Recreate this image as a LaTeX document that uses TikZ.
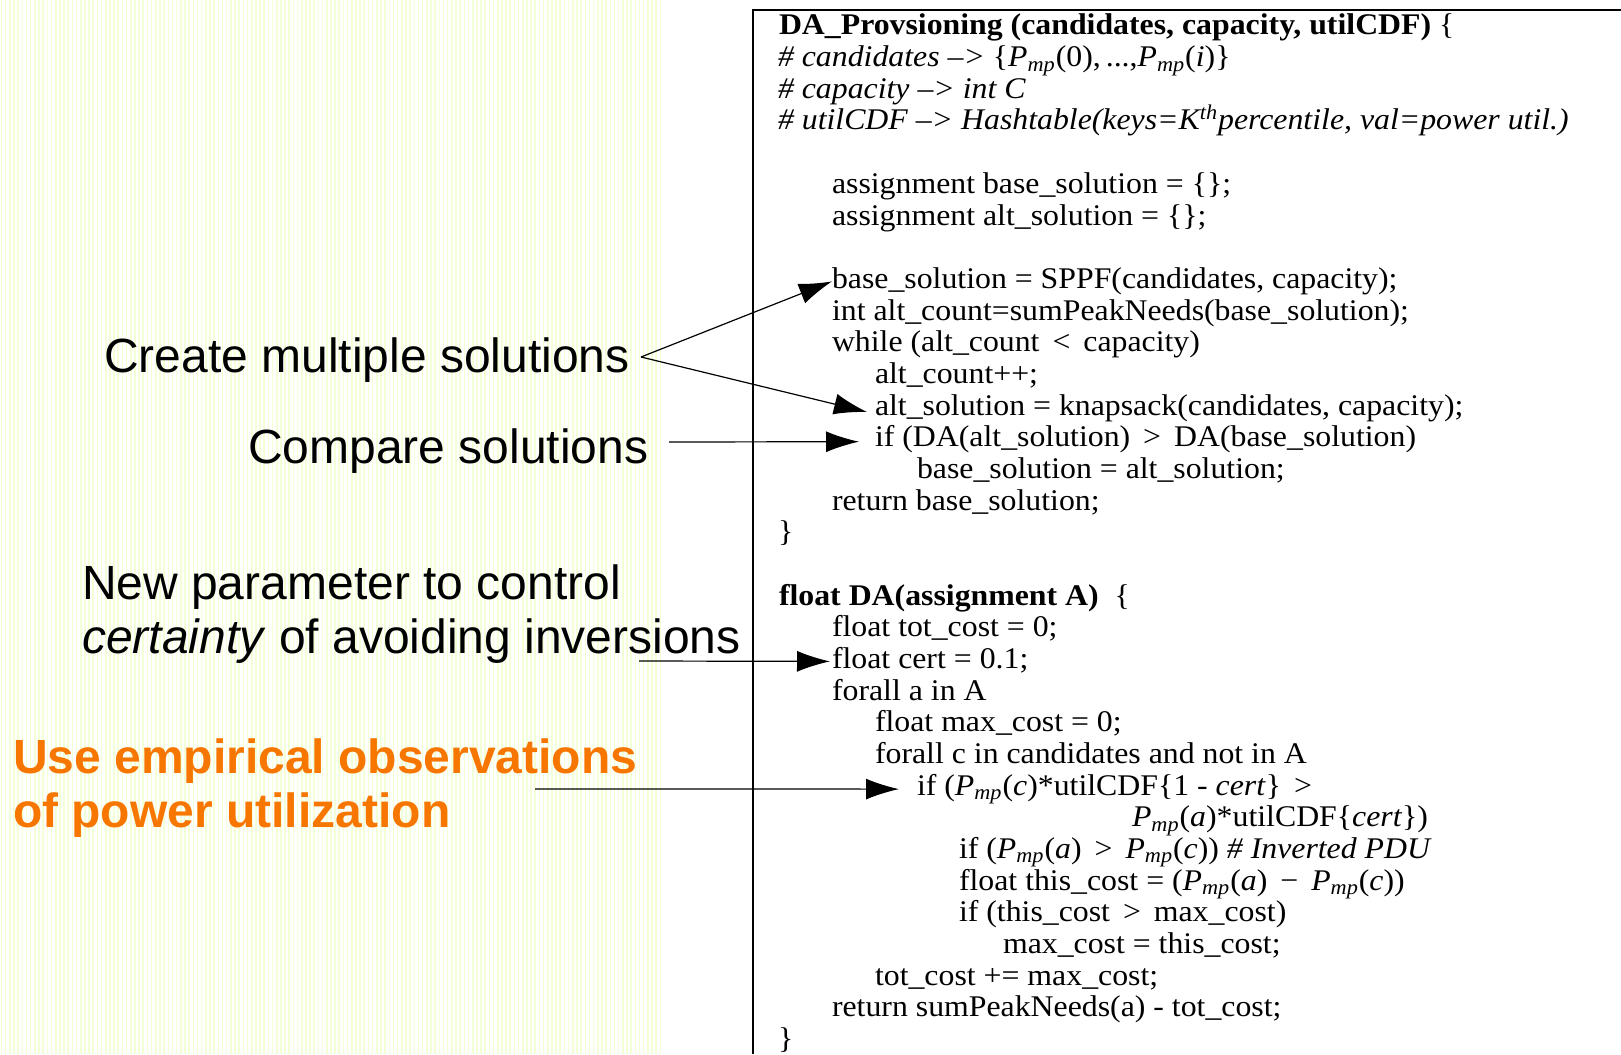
\documentclass[tikz,border=0pt]{standalone}
\usepackage{fontspec}
\setmainfont{Liberation Serif}[FakeStretch=1.06]
\newfontfamily\labelfont{Liberation Sans}
\usetikzlibrary{arrows.meta,calc}

\definecolor{stripecol}{RGB}{243,255,212}
\definecolor{hilite}{RGB}{247,118,0}

\newcommand\Pmp{\textit{P}\textsubscript{\textit{mp}}}
\newcommand\codefont{\fontsize{15}{16}\selectfont}
\newcommand\notefont{\labelfont\fontsize{24}{28}\selectfont}

\tikzset{
  codeline/.style={anchor=base west, inner sep=0pt, outer sep=0pt, font=\codefont},
  note/.style={anchor=base west, inner sep=0pt, outer sep=0pt, font=\notefont},
  hinote/.style={note, font=\notefont\bfseries, text=hilite},
  stripe/.style={draw=stripecol, line width=0.8pt},
  frame/.style={line width=0.8pt},
  pointer/.style={line width=0.6pt, -{Latex[length=16.5pt,width=10.5pt]}}
}

\begin{document}
\begin{tikzpicture}[x=0.5pt, y=-0.5pt]
\useasboundingbox (0,0) rectangle (1621,1054);

% striped backdrop on the left
\foreach \i in {0,...,158}
  \draw[stripe] (\i*4.17+1.5, 0) -- (\i*4.17+1.5, 1054);

% listing frame
\draw[frame] (1621,10) -- (753,10) -- (753,1054);

% --- listing: DA_Provsioning ---
\node[codeline] (c0)  at (779, 35.0)  {\textbf{DA\_Provsioning (candidates, capacity, utilCDF)} \{};
\node[codeline] (c1)  at (778, 66.7)  {\textit{\# candidates –>} \{\Pmp(0),\,...,\Pmp(\textit{i})\}};
\node[codeline] (c2)  at (778, 98.3)  {\textit{\# capacity –> int C}};
\node[codeline] (c3)  at (778, 130.0) {\textit{\# utilCDF –> Hashtable(keys=K\textsuperscript{th}percentile, val=power util.)}};
\node[codeline] (c5)  at (832, 193.4) {assignment base\_solution = \{\};};
\node[codeline] (c6)  at (832, 225.0) {assignment alt\_solution = \{\};};
\node[codeline] (c8)  at (832, 288.4) {base\_solution = SPPF(candidates, capacity);};
\node[codeline] (c9)  at (832, 320.0) {int alt\_count=sumPeakNeeds(base\_solution);};
\node[codeline] (c10) at (832, 351.7) {while (alt\_count \,<\, capacity)};
\node[codeline] (c11) at (875, 383.4) {alt\_count++;};
\node[codeline] (c12) at (875, 415.0) {alt\_solution = knapsack(candidates, capacity);};
\node[codeline] (c13) at (875, 446.7) {if (DA(alt\_solution) \,>\, DA(base\_solution)};
\node[codeline] (c14) at (917, 478.4) {base\_solution = alt\_solution;};
\node[codeline] (c15) at (832, 510.1) {return base\_solution;};
\node[codeline] (c16) at (778, 541.7) {\}};

% --- listing: DA ---
\node[codeline] (c18) at (779, 605.1) {\textbf{float DA(assignment A)}\ \ \{};
\node[codeline] (c19) at (832, 636.7) {float tot\_cost = 0;};
\node[codeline] (c20) at (832, 668.4) {float cert = 0.1;};
\node[codeline] (c21) at (832, 700.1) {forall a in A};
\node[codeline] (c22) at (875, 731.7) {float max\_cost = 0;};
\node[codeline] (c23) at (875, 763.4) {forall c in candidates and not in A};
\node[codeline] (c24) at (917, 795.1) {if (\Pmp(\textit{c})*utilCDF\{1 - \textit{cert}\} \,>};
\node[codeline] (c25) at (1132, 826.8) {\Pmp(\textit{a})*utilCDF\{\textit{cert}\})};
\node[codeline] (c26) at (959, 858.4) {if (\Pmp(\textit{a}) \,>\, \Pmp(\textit{c})) \textit{\# Inverted PDU}};
\node[codeline] (c27) at (959, 890.1) {float this\_cost = (\Pmp(\textit{a}) \,−\, \Pmp(\textit{c}))};
\node[codeline] (c28) at (959, 921.8) {if (this\_cost \,>\, max\_cost)};
\node[codeline] (c29) at (1003, 953.4) {max\_cost = this\_cost;};
\node[codeline] (c30) at (875, 985.1) {tot\_cost += max\_cost;};
\node[codeline] (c31) at (832, 1016.8) {return sumPeakNeeds(a) - tot\_cost;};
\node[codeline] (c32) at (778, 1048.4) {\}};

% --- annotations ---
\node[note] (create)  at (104, 372) {Create multiple solutions};
\node[note] (compare) at (248, 463) {Compare solutions};
\node[note] (param1)  at (82, 599)  {New parameter to control};
\node[note] (param2)  at (82, 653)  {\textit{certainty} of avoiding inversions};
\node[hinote] (emp1)  at (13, 773)  {Use empirical observations};
\node[hinote] (emp2)  at (13, 827)  {of power utilization};

% arrow start points
\coordinate (fork)     at (641, 357);
\coordinate (cmpstart) at (669, 442);
\coordinate (certstart) at (639, 661);
\coordinate (empstart) at (535, 789);

% arrow targets beside the listing lines
\coordinate (tSPPF) at ($(c8.base west)+(0,-7)$);
\coordinate (tKnap) at ($(c12.base west)+(-8,-3)$);
\coordinate (tCmp)  at ($(c13.base west)+(-16,-5)$);
\coordinate (tCert) at ($(c20.base west)+(-2,-7)$);
\coordinate (tEmp)  at ($(c24.base west)+(-18,-6)$);

\draw[pointer] (fork) -- (tSPPF);
\draw[pointer] (fork) -- (tKnap);
\draw[pointer] (cmpstart) -- (tCmp);
\draw[pointer] (certstart) -- (tCert);
\draw[pointer] (empstart) -- (tEmp);
\end{tikzpicture}
\end{document}
